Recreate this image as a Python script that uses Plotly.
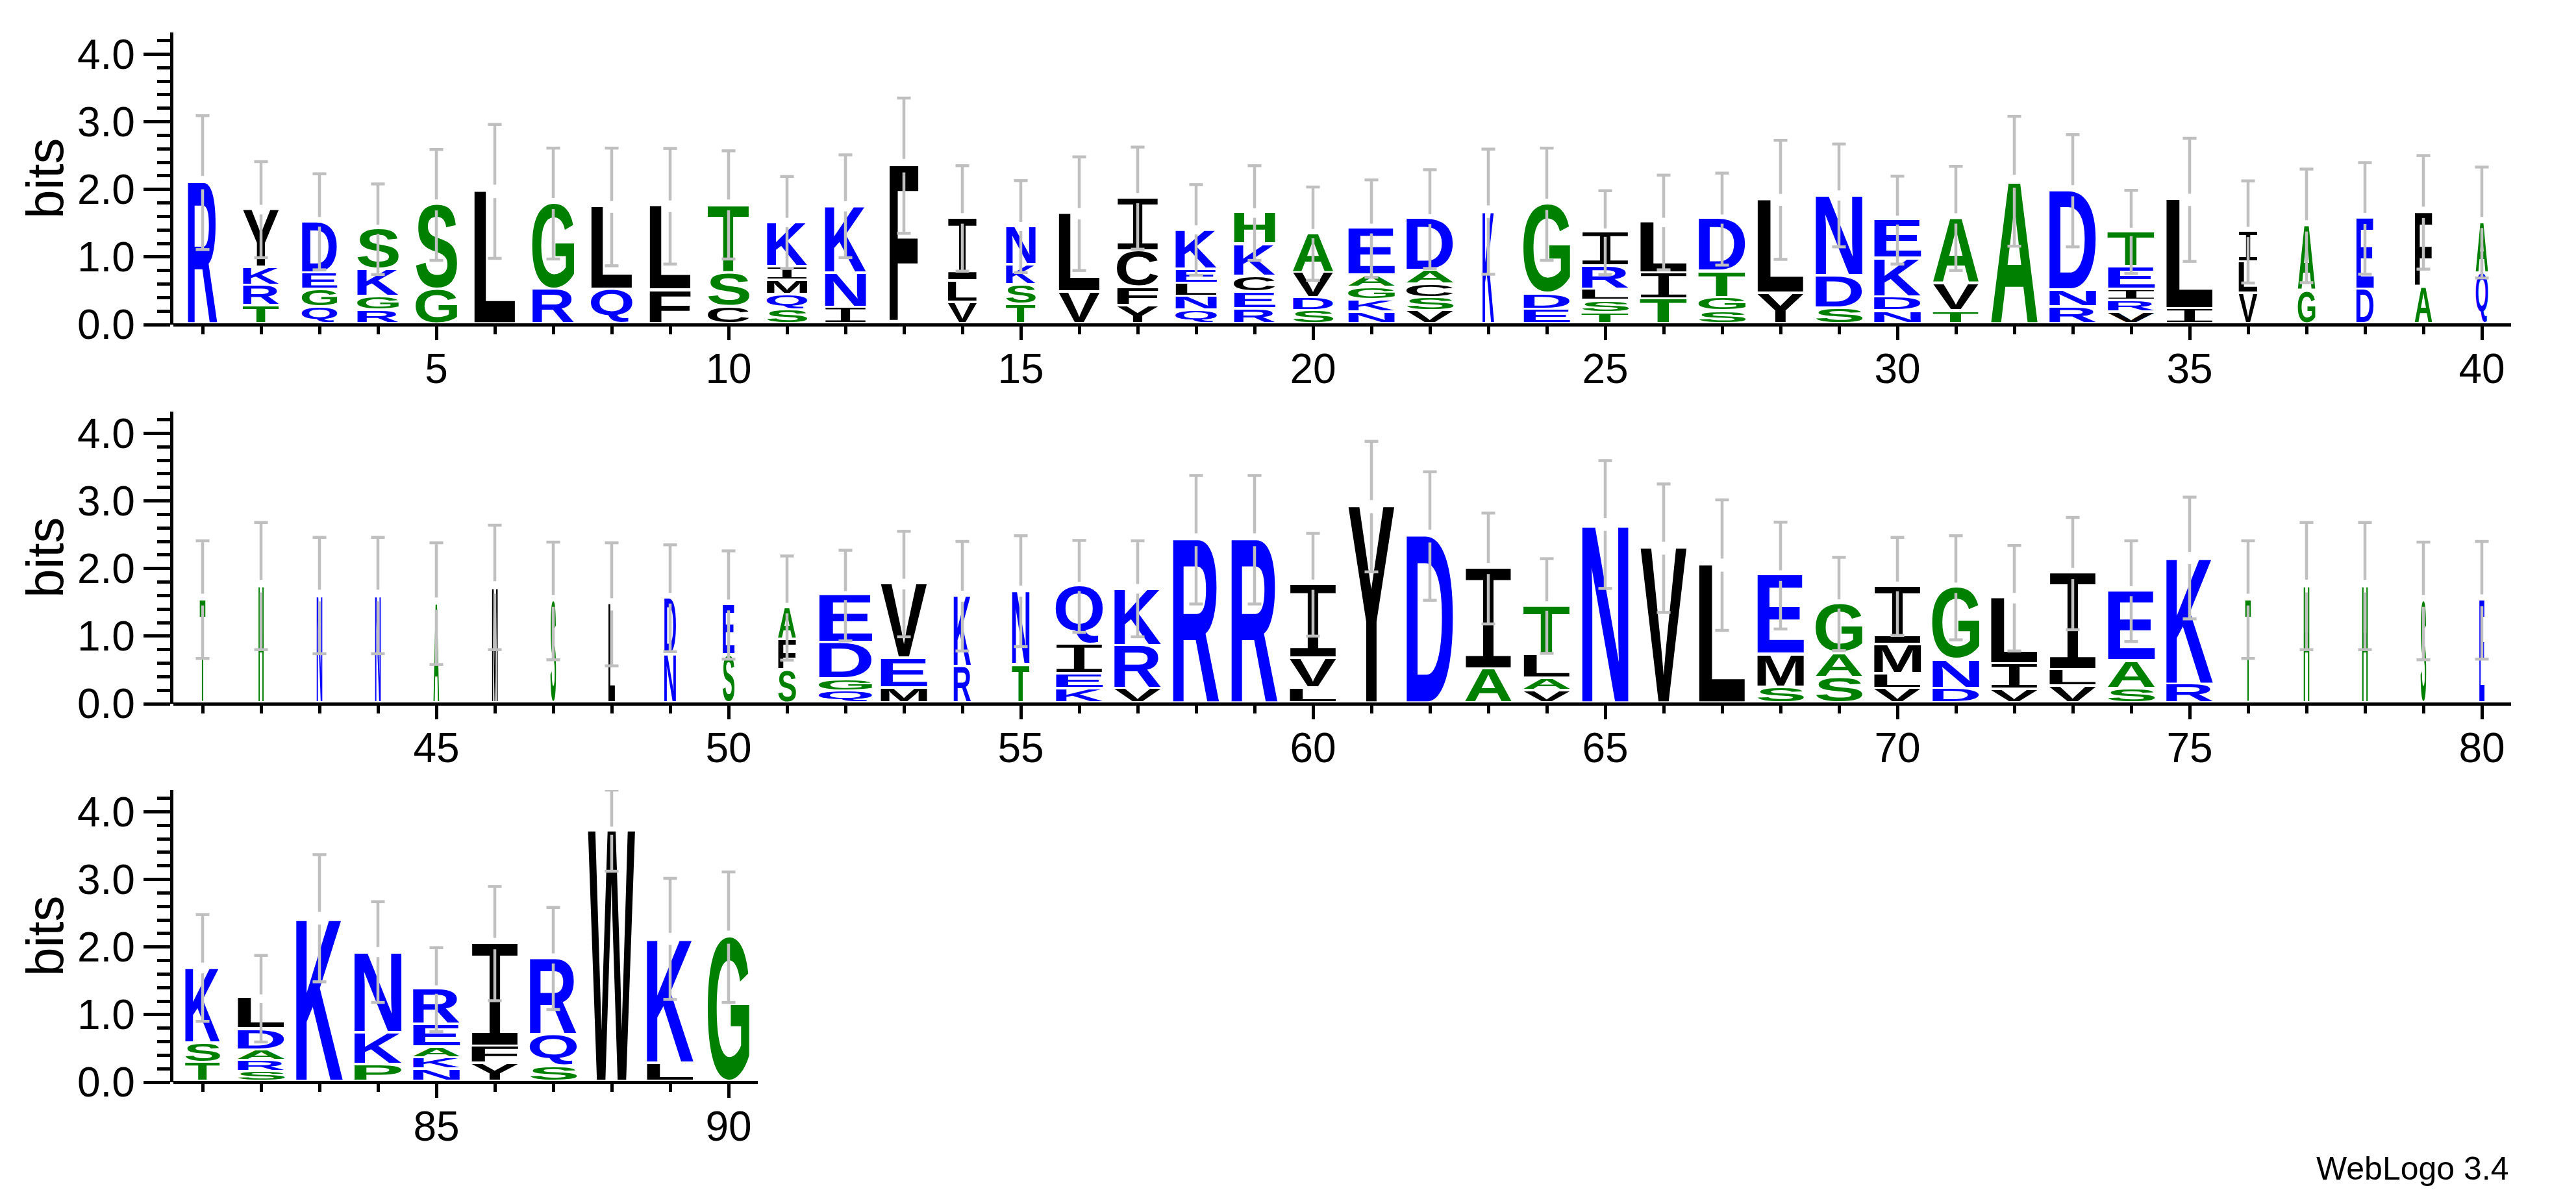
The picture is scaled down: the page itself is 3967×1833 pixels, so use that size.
import plotly.graph_objects as go

W, H = 3967, 1833

# letters of each stack, bottom to top, with their height in bits
STACK_LETTERS = [
    "R", "TRKY", "QGED", "RGKS", "GS", "L", "RG", "QL", "FL", "CST",
    "SQMIK", "INK", "F", "VLI", "TSKN", "VL", "YFCI", "QNLEK", "RECKH", "SDVA",
    "NKGAE", "VSCAD", "K", "EDG", "TSLRI", "TIL", "SGTD", "YL", "SDN", "NDKE",
    "TVA", "A", "RND", "VRIET", "IL", "VLI", "GA", "DE", "AF", "QA",
    "T", "H", "N", "N", "A", "M", "S", "L", "ND", "SE",
    "SFA", "QGDE", "MEV", "RK", "TN", "KEIQ", "VRK", "R", "R", "LVI",
    "Y", "D", "AI", "VALT", "N", "V", "L", "SME", "SAG", "VLMI",
    "DNG", "VIL", "VLI", "SAE", "RK", "T", "H", "H", "S", "E",
    "TSK", "SRADL", "K", "PKN", "NKAER", "YFI", "SQR", "W", "LK", "G",
]
STACK_BITS = [
    [2.10], [.27, .30, .27, .86], [.25, .26, .245, .765], [.20, .205, .405, .60], [.51, 1.26],
    [1.97], [.51, 1.28], [.51, 1.23], [.50, 1.25], [.25, .505, 1.015],
    [.21, .22, .215, .205, .66], [.245, .505, 1.0], [2.35], [.315, .32, .935], [.285, .29, .30, .575],
    [.47, 1.17], [.27, .27, .54, .79], [.20, .205, .195, .21, .59], [.225, .245, .235, .475, .47], [.195, .19, .38, .58],
    [.17, .185, .185, .18, .70], [.19, .195, .20, .205, .77], [1.67], [.215, .235, 1.33], [.165, .18, .17, .34, .505],
    [.37, .385, .755], [.19, .195, .39, .785], [.455, 1.39], [.235, .475, 1.20], [.19, .205, .575, .575],
    [.19, .41, .97], [2.12], [.25, .25, 1.48], [.17, .175, .17, .335, .52], [.225, 1.62],
    [.45, .46, .46], [.49, .97], [.515, 1.055], [.545, 1.115], [.75, .76],
    [1.54], [1.74], [1.60], [1.60], [1.48],
    [1.72], [1.52], [1.47], [.72, .84], [.71, .75],
    [.485, .46, .47], [.175, .18, .535, .71], [.225, .44, 1.105], [.535, 1.055], [.565, 1.10],
    [.215, .22, .43, .87], [.215, .635, .85], [2.425], [2.425], [.225, .44, 1.095],
    [2.915], [2.48], [.505, 1.495], [.185, .185, .35, .725], [2.65],
    [2.30], [2.05], [.235, .485, 1.175], [.38, .365, .73], [.215, .22, .435, .865],
    [.215, .425, 1.075], [.20, .38, .98], [.25, .24, 1.435], [.215, .415, 1.035], [.275, 1.88],
    [1.54], [1.74], [1.74], [1.52], [1.53],
    [.28, .285, 1.125], [.145, .165, .155, .31, .46], [2.425], [.25, .475, 1.20], [.18, .17, .165, .33, .525],
    [.265, .255, 1.53], [.22, .475, 1.135], [3.72], [.27, 1.85], [2.145],
]
ERROR_BITS = [
    .99, .71, .71, .67, .82, .99, .82, .87, .855, .80,
    .68, .76, 1.0, .78, .68, .84, .755, .67, .70, .69,
    .72, .73, .925, .83, .62, .70, .68, .88, .76, .65,
    .77, .96, .83, .615, .91, .755, .84, .825, .84, .82,
    .87, .94, .86, .86, .90, .92, .87, .91, .79, .80,
    .77, .67, .78, .81, .82, .68, .71, .95, .95, .76,
    .965, .95, .82, .70, .945, .95, .965, .79, .69, .725,
    .77, .78, .83, .745, .90, .87, .94, .94, .87, .87,
    .79, .64, .94, .745, .62, .845, .755, .60, .895, .965,
]
# share of sequences without a gap, which sets the stack width
COLUMN_WIDTH = [
    .63, .77, .75, .88, .88, .88, .89, .88, .88, .88,
    .86, .88, .62, .62, .63, .88, .88, .88, .88, .86,
    .99, 1.0, .25, .99, 1.0, 1.0, 1.0, .99, 1.0, 1.0,
    .97, .99, 1.0, 1.0, 1.0, .40, .37, .37, .37, .26,
    .12, .11, .12, .12, .12, .12, .12, .14, .25, .25,
    .38, 1.13, .99, .37, .37, 1.0, 1.0, .99, .99, 1.0,
    .99, 1.0, .99, .99, .99, .99, .99, .99, .99, 1.0,
    1.0, 1.0, 1.0, 1.0, 1.0, .12, .12, .12, .12, .11,
    .74, 1.0, 1.0, 1.01, 1.0, 1.0, 1.0, 1.0, 1.0, .88,
]
ROW_STARTS = [1, 41, 81]
ROW_ENDS = [40, 80, 90]
Y_TICKS = [0, 1, 2, 3, 4]

GREEN = "AGHPST"
BLUE = "DEKRNQ"
ROW_BASELINES = [500, 1084, 1667]
ROW_HEIGHT = 450
PLOT_LEFT = 267
POS_PX = 90
FULL_WIDTH = 0.81
FONT = "Liberation Sans"


def letter_color(c):
    if c in GREEN:
        return "#008000"
    if c in BLUE:
        return "#0000FF"
    return "#000000"


fig = go.Figure()

for r in range(3):
    suffix = "" if r == 0 else str(r + 1)
    base = ROW_BASELINES[r]
    first, last = ROW_STARTS[r], ROW_ENDS[r]
    xs, ys, texts, colors, fams, weights, extra = [], [], [], [], [], [], []
    ex, ey = [], []
    for pos in range(first, last + 1):
        i = pos - 1
        y0 = 0.0
        for c, h in zip(STACK_LETTERS[i], STACK_BITS[i]):
            xs.append(pos)
            ys.append(y0)
            texts.append(c)
            colors.append(letter_color(c))
            # the sans I has no serifs, the reference one does
            fams.append("Liberation Mono" if c == "I" else FONT)
            weights.append("normal" if c == "I" else "bold")
            extra.append([h, COLUMN_WIDTH[i] * FULL_WIDTH])
            y0 += h
        e = ERROR_BITS[i]
        cap = 0.117
        # upper half with its cap, gap round the stack top, lower half
        ex += [pos - cap, pos + cap, None, pos, pos, None, pos, pos, None, pos - cap, pos + cap, None]
        ey += [y0 + e, y0 + e, None, y0 + e, y0 + 0.1 * e, None, y0 - 0.1 * e, y0 - e, None, y0 - e, y0 - e, None]

    fig.add_trace(go.Scatter(
        x=xs, y=ys, text=texts, customdata=extra, mode="text",
        textposition="middle center",
        textfont=dict(size=100, color=colors, family=fams, weight=weights),
        cliponaxis=False, hoverinfo="skip", showlegend=False,
        xaxis="x" + suffix, yaxis="y" + suffix,
    ))
    fig.add_trace(go.Scatter(
        x=ex, y=ey, mode="lines", line=dict(color="#BFBFBF", width=4.5),
        cliponaxis=False, hoverinfo="skip", showlegend=False,
        xaxis="x" + suffix, yaxis="y" + suffix,
    ))

    fig.layout["xaxis" + suffix] = dict(
        domain=[PLOT_LEFT / W, (PLOT_LEFT + (last - first + 1) * POS_PX) / W],
        range=[first - 0.5, last + 0.5],
        anchor="free", position=(H - base) / H,
        showline=True, linecolor="black", linewidth=4.5, showgrid=False, zeroline=False,
        tick0=0, dtick=5, ticks="outside", ticklen=21, tickwidth=4.5, tickcolor="black",
        minor=dict(tick0=1, dtick=1, ticks="outside", ticklen=12, tickwidth=4.5, tickcolor="black", showgrid=False),
        tickfont=dict(family=FONT, size=64, color="black"),
        ticklabelstandoff=-11,
    )
    fig.layout["yaxis" + suffix] = dict(
        domain=[(H - base) / H, (H - base + ROW_HEIGHT) / H],
        range=[0, 4.32],
        anchor="free", position=263.5 / W,
        showline=True, linecolor="black", linewidth=4.5, showgrid=False, zeroline=False,
        tickmode="array", tickvals=Y_TICKS, ticktext=[f"{v:.1f}" for v in Y_TICKS],
        ticks="outside", ticklen=41, tickwidth=4.5, tickcolor="black",
        minor=dict(tick0=0, dtick=0.2, ticks="outside", ticklen=20, tickwidth=4.5, tickcolor="black", showgrid=False),
        tickfont=dict(family=FONT, size=64, color="black"),
    )
    fig.add_annotation(
        text="bits", xref="paper", yref="paper", x=69 / W, y=(H - base + ROW_HEIGHT / 2) / H,
        textangle=-90, xanchor="center", yanchor="middle", showarrow=False,
        font=dict(family=FONT, size=80, color="black"),
    )

fig.add_annotation(
    text="WebLogo 3.4", xref="paper", yref="paper", x=3866 / W, y=(H - 1800) / H,
    xanchor="right", yanchor="middle", showarrow=False,
    font=dict(family=FONT, size=50, color="black"),
)

fig.update_layout(
    width=W, height=H, autosize=False,
    margin=dict(l=0, r=0, t=0, b=0, pad=0, autoexpand=False),
    paper_bgcolor="white", plot_bgcolor="white", showlegend=False,
)

# plotly text only scales evenly, so stretch each letter to its cell once drawn
STRETCH_LETTERS = """
document.body.style.margin = '0';
var gd = document.getElementById('{plot_id}');
var ctx = document.createElement('canvas').getContext('2d');
var GAP = 3.8;
gd.querySelectorAll('.scatterlayer .trace').forEach(function (tr) {
  var t = tr.__data__[0].trace;
  if (!t.customdata) return;
  var xa = gd._fullLayout['xaxis' + t.xaxis.slice(1)];
  var ya = gd._fullLayout['yaxis' + t.yaxis.slice(1)];
  tr.querySelectorAll('.textpoint').forEach(function (g) {
    var d = g.__data__, extra = t.customdata[d.i];
    var el = g.querySelector('text');
    var st = getComputedStyle(el);
    ctx.font = st.fontWeight + ' 100px ' + st.fontFamily;
    var m = ctx.measureText(el.textContent);
    var left = -m.actualBoundingBoxLeft, right = m.actualBoundingBoxRight;
    var asc = m.actualBoundingBoxAscent, desc = m.actualBoundingBoxDescent;
    var cx = xa.c2p(d.x);
    var w = xa.c2p(d.x + extra[1]) - cx;
    var bottom = ya.c2p(d.y) - GAP;
    var top = ya.c2p(d.y + extra[0]);
    el.setAttribute('text-anchor', 'start');
    el.setAttribute('x', 0);
    el.setAttribute('y', 0);
    el.removeAttribute('transform');
    g.setAttribute('transform', 'translate(' + (cx - w / 2) + ',' + bottom + ') scale(' +
      (w / (right - left)) + ',' + ((bottom - top) / (asc + desc)) + ') translate(' + (-left) + ',' + (-desc) + ')');
  });
});
"""

fig.write_html("out.html", post_script=STRETCH_LETTERS, config=dict(displayModeBar=False))
